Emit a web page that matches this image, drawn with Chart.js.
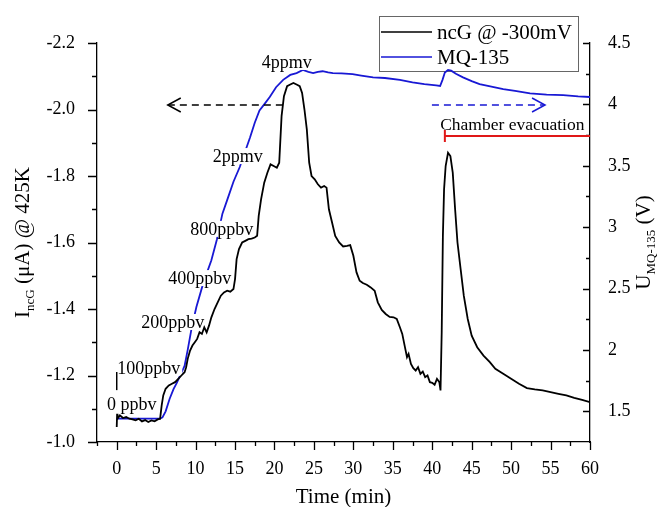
<!DOCTYPE html>
<html>
<head>
<meta charset="utf-8">
<script src="https://cdn.jsdelivr.net/npm/chart.js@4.4.1/dist/chart.umd.min.js"></script>
<style>
  html, body { margin: 0; padding: 0; background: #fff; }
  #wrap { width: 658px; height: 507px; position: relative; }
</style>
</head>
<body>
<div id="wrap"><canvas id="sensorChart"></canvas></div>
<script>
// ncG current (uA) vs time (min)
const ncgTime = [0, 0.05, 0.1, 0.4, 0.8, 1.2, 1.6, 2.0, 2.4, 2.8, 3.2, 3.6, 4.0, 4.4, 4.8, 5.2, 5.5, 5.7, 5.9, 6.2,
  6.6, 7.0, 7.4, 7.8, 8.2, 8.6, 8.8, 9.0, 9.3, 9.6, 9.9, 10.2, 10.5, 10.8, 11.1, 11.4, 11.7, 12.0, 12.4, 12.8,
  13.2, 13.6, 14.0, 14.4, 14.8, 15.0, 15.2, 15.5, 15.9, 16.3, 16.7, 17.1, 17.5, 17.8, 18.0, 18.3, 18.7, 19.1, 19.5, 19.9,
  20.3, 20.6, 20.9, 21.2, 21.6, 22.0, 22.4, 22.8, 23.2, 23.5, 23.8, 24.1, 24.4, 24.7, 25.1, 25.5, 25.9, 26.3, 26.6, 26.9,
  27.3, 27.7, 28.2, 28.7, 29.2, 29.6, 30.0, 30.4, 30.8, 31.2, 31.7, 32.2, 32.7, 33.1, 33.6, 34.1, 34.6, 35.1, 35.5, 35.9,
  36.2, 36.5, 36.8, 37.0, 37.3, 37.6, 37.9, 38.2, 38.5, 38.8, 39.1, 39.4, 39.7, 40.0, 40.3, 40.6, 40.9, 41.05, 41.2, 41.35,
  41.5, 41.7, 42.0, 42.3, 42.6, 42.9, 43.2, 43.6, 44.0, 44.5, 45.0, 45.7, 46.5, 47.3, 48.0, 49.0, 50.0, 51.0, 52.0, 53.0,
  54.0, 55.0, 56.0, 57.0, 58.0, 59.0, 60.0];
const ncgCurrent = [-1.045, -1.085, -1.07, -1.08, -1.072, -1.075, -1.07, -1.068, -1.065, -1.07, -1.062, -1.066, -1.06, -1.065, -1.062, -1.068, -1.07, -1.11, -1.14, -1.16,
  -1.17, -1.175, -1.18, -1.19, -1.2, -1.21, -1.225, -1.25, -1.275, -1.29, -1.3, -1.31, -1.33, -1.325, -1.345, -1.33, -1.35, -1.375, -1.4, -1.42,
  -1.44, -1.45, -1.455, -1.452, -1.46, -1.49, -1.55, -1.58, -1.6, -1.605, -1.61, -1.612, -1.615, -1.62, -1.68, -1.73, -1.78, -1.81, -1.835, -1.83,
  -1.825, -1.84, -1.98, -2.04, -2.07, -2.075, -2.08, -2.075, -2.07, -2.05, -2.0, -1.94, -1.84, -1.8, -1.79, -1.775, -1.765, -1.77, -1.765, -1.7,
  -1.66, -1.62, -1.6, -1.588, -1.59, -1.592, -1.56, -1.51, -1.485, -1.478, -1.473, -1.465, -1.455, -1.42, -1.397, -1.385, -1.376, -1.375, -1.37, -1.345,
  -1.325, -1.29, -1.255, -1.265, -1.235, -1.222, -1.215, -1.225, -1.205, -1.212, -1.195, -1.2, -1.18, -1.178, -1.172, -1.19, -1.18, -1.155, -1.33, -1.62,
  -1.76, -1.83, -1.87, -1.86, -1.81, -1.7, -1.6, -1.52, -1.44, -1.37, -1.32, -1.285, -1.26, -1.24, -1.22, -1.205, -1.19, -1.175, -1.162, -1.158,
  -1.155, -1.15, -1.145, -1.14, -1.133, -1.127, -1.12];

// MQ-135 voltage (V) vs time (min)
const mqTime = [0, 5.5, 5.8, 6.2, 6.7, 7.2, 7.6, 8.1, 8.6, 9.0, 9.5, 10.1, 11.0, 12.0, 12.7, 13.4, 14.0, 14.8, 15.6, 16.3,
  16.9, 17.5, 18.1, 18.7, 19.4, 20.2, 21.1, 22.0, 22.8, 23.6, 24.3, 24.9, 25.5, 26.1, 26.8, 27.4, 28.5, 29.9, 31.0, 32.5,
  34.0, 35.9, 37.5, 39.0, 40.5, 41.0, 41.3, 41.6, 42.0, 42.4, 43.0, 43.9, 45.0, 46.0, 47.5, 49.0, 50.5, 52.4, 54.5, 56.6,
  58.5, 60.0];
const mqVoltage = [1.44, 1.44, 1.45, 1.5, 1.6, 1.68, 1.73, 1.8, 1.87, 2.0, 2.18, 2.35, 2.55, 2.73, 2.9, 3.11, 3.22, 3.37, 3.49, 3.62,
  3.73, 3.85, 3.95, 4.0, 4.06, 4.14, 4.2, 4.24, 4.255, 4.28, 4.265, 4.255, 4.265, 4.27, 4.26, 4.255, 4.252, 4.247, 4.235, 4.22,
  4.215, 4.2, 4.18, 4.165, 4.155, 4.15, 4.2, 4.26, 4.28, 4.275, 4.25, 4.22, 4.19, 4.165, 4.145, 4.125, 4.11, 4.09, 4.08, 4.075,
  4.065, 4.06];

const concLabels = ["0 ppbv", "100ppbv", "200ppbv", "400ppbv", "800ppbv", "2ppmv", "4ppmv"];

// anchors of the annotations, in data units (time, current)
const concAnchors = [[1.9, -1.114], [4.06, -1.223], [7.1, -1.361], [10.53, -1.493], [13.32, -1.641], [15.35, -1.86], [21.57, -2.143]];
const startMarker = { t: 0, from: -1.156, to: -1.2105 };
const ncgArrow = { from: 21.06, to: 6.47, level: -2.0135 };
const mqArrow = { from: 39.96, to: 54.3, level: -2.0135 };
const evacuation = { from: 41.6, to: 60, level: -1.92, text: "Chamber evacuation", textT: 41.0, textLevel: -1.953 };

const SERIF = "'Liberation Serif', 'Times New Roman', serif";
const BLUE = '#1818d4';

// legend box sits under the traces
const legendPlugin = {
  id: 'boxLegend',
  beforeDatasetsDraw(chart) {
    const ctx = chart.ctx;
    const ds = chart.data.datasets;
    ctx.save();
    ctx.fillStyle = '#fff';
    ctx.fillRect(379.5, 16.5, 199, 55);
    ctx.strokeStyle = '#666';
    ctx.lineWidth = 1;
    ctx.strokeRect(379.5, 16.5, 199, 55);
    [32, 57].forEach((ly, i) => {
      ctx.strokeStyle = ds[i].borderColor;
      ctx.lineWidth = 1.6;
      ctx.beginPath(); ctx.moveTo(381, ly); ctx.lineTo(432, ly); ctx.stroke();
      ctx.fillStyle = '#000';
      ctx.font = '21px ' + SERIF;
      ctx.textAlign = 'left';
      ctx.textBaseline = 'middle';
      ctx.fillText(ds[i].label, 437, ly + 1);
    });
    ctx.restore();
  }
};

// white-backed concentration labels, drawn between the blue and black traces
const concLabelPlugin = {
  id: 'concLabels',
  afterDatasetDraw(chart, args) {
    if (args.index !== 1) return;
    const { ctx, scales: { x, y } } = chart;
    ctx.save();
    ctx.font = '18px ' + SERIF;
    ctx.textAlign = 'center';
    ctx.textBaseline = 'middle';
    concLabels.forEach((txt, i) => {
      const px = x.getPixelForValue(concAnchors[i][0]);
      const py = y.getPixelForValue(concAnchors[i][1]);
      const w = ctx.measureText(txt).width + 4;
      ctx.fillStyle = '#fff';
      ctx.fillRect(px - w / 2, py - 8, w, 16);
      ctx.fillStyle = '#000';
      ctx.fillText(txt, px, py + 1);
    });
    ctx.restore();
  }
};

function dashedArrow(ctx, x1, x2, yy, color) {
  ctx.save();
  ctx.strokeStyle = color;
  ctx.lineWidth = 1.5;
  ctx.setLineDash([7, 5]);
  ctx.beginPath(); ctx.moveTo(x1, yy); ctx.lineTo(x2, yy); ctx.stroke();
  ctx.setLineDash([]);
  const d = x2 > x1 ? -1 : 1;
  ctx.beginPath();
  ctx.moveTo(x2 + d * 13, yy - 7); ctx.lineTo(x2, yy); ctx.lineTo(x2 + d * 13, yy + 7);
  ctx.stroke();
  ctx.restore();
}

function rotatedTitle(ctx, cx, cy, parts) {
  ctx.save();
  ctx.translate(cx, cy);
  ctx.rotate(-Math.PI / 2);
  ctx.fillStyle = '#000';
  ctx.textBaseline = 'alphabetic';
  ctx.textAlign = 'left';
  let total = 0;
  parts.forEach(p => { ctx.font = p.font; p.w = ctx.measureText(p.text).width; total += p.w; });
  let pos = -total / 2;
  parts.forEach(p => { ctx.font = p.font; ctx.fillText(p.text, pos, p.shift); pos += p.w; });
  ctx.restore();
}

const decorPlugin = {
  id: 'decor',
  afterDraw(chart) {
    const { ctx, chartArea: area, scales: { x, y, y2 } } = chart;
    ctx.save();
    // tick marks: labelled ticks long, the others short
    ctx.strokeStyle = '#000';
    ctx.lineWidth = 1.3;
    ctx.beginPath();
    x.ticks.forEach(t => {
      const px = Math.round(x.getPixelForValue(t.value)) + 0.5;
      const len = t.label !== '' ? 8 : 4;
      ctx.moveTo(px, area.bottom); ctx.lineTo(px, area.bottom + len);
    });
    y.ticks.forEach(t => {
      const py = Math.round(y.getPixelForValue(t.value)) + 0.5;
      const len = t.label !== '' ? 9 : 5;
      ctx.moveTo(area.left, py); ctx.lineTo(area.left - len, py);
    });
    y2.ticks.forEach(t => {
      if (t.value < 1.4) return;
      const py = Math.round(y2.getPixelForValue(t.value)) + 0.5;
      const len = t.label !== '' ? 7 : 4;
      ctx.moveTo(area.right, py); ctx.lineTo(area.right - len, py);
    });
    ctx.stroke();

    // start marker
    const mx = x.getPixelForValue(startMarker.t);
    ctx.lineWidth = 1.5;
    ctx.beginPath();
    ctx.moveTo(mx, y.getPixelForValue(startMarker.from));
    ctx.lineTo(mx, y.getPixelForValue(startMarker.to));
    ctx.stroke();

    // arrows
    dashedArrow(ctx, x.getPixelForValue(ncgArrow.from), x.getPixelForValue(ncgArrow.to), y.getPixelForValue(ncgArrow.level), '#000');
    dashedArrow(ctx, x.getPixelForValue(mqArrow.from), x.getPixelForValue(mqArrow.to), y.getPixelForValue(mqArrow.level), BLUE);

    // evacuation bar
    const ey = y.getPixelForValue(evacuation.level);
    const ex1 = x.getPixelForValue(evacuation.from);
    const ex2 = x.getPixelForValue(evacuation.to);
    ctx.strokeStyle = '#e01818';
    ctx.lineWidth = 2;
    ctx.beginPath();
    ctx.moveTo(ex1, ey); ctx.lineTo(ex2, ey);
    ctx.moveTo(ex1, ey - 6); ctx.lineTo(ex1, ey + 6);
    ctx.stroke();
    ctx.fillStyle = '#000';
    ctx.font = '17.5px ' + SERIF;
    ctx.textAlign = 'left';
    ctx.textBaseline = 'middle';
    ctx.fillText(evacuation.text, x.getPixelForValue(evacuation.textT), y.getPixelForValue(evacuation.textLevel));

    // axis titles
    ctx.font = '21px ' + SERIF;
    ctx.textAlign = 'center';
    ctx.textBaseline = 'alphabetic';
    ctx.fillText('Time (min)', (area.left + area.right) / 2, 503);
    const cy = (area.top + area.bottom) / 2;
    rotatedTitle(ctx, 29, cy, [
      { text: 'I', font: '21px ' + SERIF, shift: 0 },
      { text: 'ncG', font: '13px ' + SERIF, shift: 5 },
      { text: ' (\u03bcA) @ 425K', font: '21px ' + SERIF, shift: 0 }
    ]);
    rotatedTitle(ctx, 650, cy, [
      { text: 'U', font: '21px ' + SERIF, shift: 0 },
      { text: 'MQ-135', font: '13px ' + SERIF, shift: 5 },
      { text: ' (V)', font: '21px ' + SERIF, shift: 0 }
    ]);
    ctx.restore();
  }
};

const tickFont = { family: SERIF, size: 18 };

new Chart(document.getElementById('sensorChart'), {
  type: 'line',
  data: {
    datasets: [
      {
        label: 'ncG @ -300mV',
        data: ncgTime.map((t, i) => ({ x: t, y: ncgCurrent[i] })),
        borderColor: '#000', borderWidth: 1.8, pointRadius: 0, yAxisID: 'y'
      },
      {
        label: 'MQ-135',
        data: mqTime.map((t, i) => ({ x: t, y: mqVoltage[i] })),
        borderColor: BLUE, borderWidth: 1.8, pointRadius: 0, yAxisID: 'y2'
      }
    ]
  },
  options: {
    responsive: true,
    maintainAspectRatio: false,
    animation: false,
    layout: { padding: { top: 43, left: 0, right: 0, bottom: 0 } },
    plugins: { legend: { display: false }, tooltip: { enabled: false } },
    scales: {
      x: {
        type: 'linear', min: -2.5, max: 60,
        grid: { display: false },
        border: { color: '#000', width: 1.3 },
        ticks: {
          stepSize: 2.5, maxTicksLimit: 100, autoSkip: false, maxRotation: 0, padding: 8,
          color: '#000', font: tickFont,
          callback: v => (v >= 0 && Math.round(v / 2.5) % 2 === 0) ? String(v) : ''
        },
        afterFit: s => { s.height = 65; }
      },
      y: {
        position: 'left', reverse: true, min: -2.2, max: -1.0,
        grid: { display: false },
        border: { color: '#000', width: 1.3 },
        ticks: {
          stepSize: 0.1, maxTicksLimit: 100, autoSkip: false, padding: 14,
          color: '#000', font: tickFont,
          callback: v => { const r = Math.round(v * 10); return r % 2 === 0 ? (r / 10).toFixed(1) : ''; }
        },
        afterFit: s => { s.width = 97; }
      },
      y2: {
        position: 'right', min: 1.25, max: 4.5,
        grid: { display: false },
        border: { color: '#000', width: 1.3 },
        ticks: {
          stepSize: 0.25, maxTicksLimit: 100, autoSkip: false, padding: 10,
          color: '#000', font: tickFont,
          callback: v => { const r = Math.round(v * 4); return r % 2 === 0 ? String(r / 4) : ''; }
        },
        afterFit: s => { s.width = 68; }
      }
    }
  },
  plugins: [legendPlugin, concLabelPlugin, decorPlugin]
});
</script>
</body>
</html>
